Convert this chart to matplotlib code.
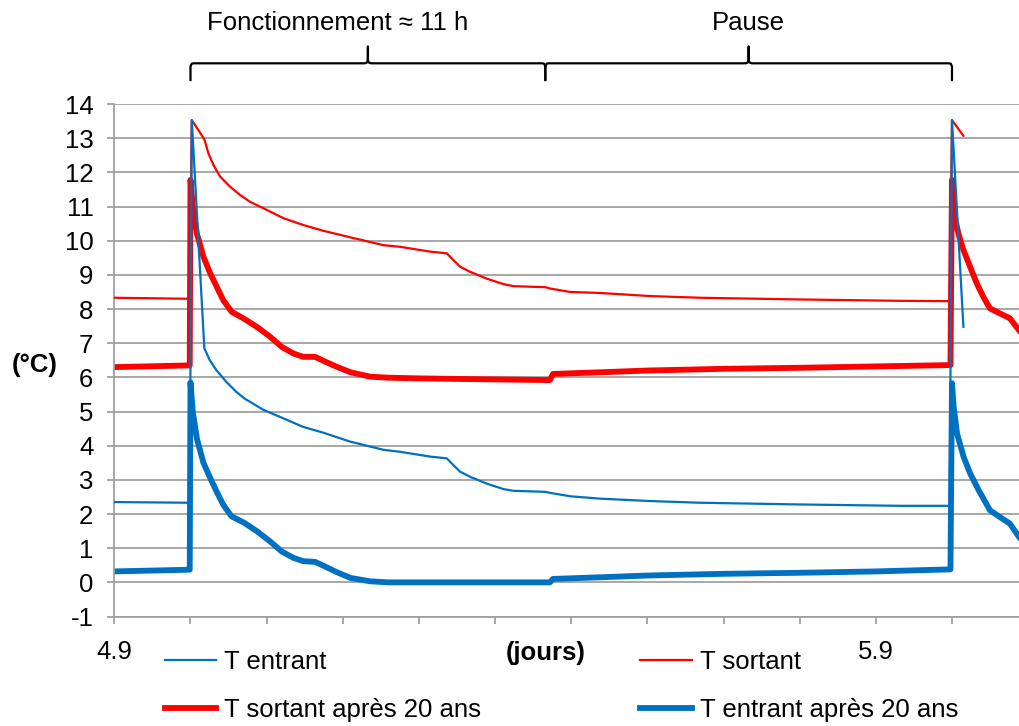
import numpy as np
import matplotlib.pyplot as plt
from matplotlib.transforms import blended_transform_factory

plt.rcParams['font.family'] = ['Liberation Sans', 'DejaVu Sans']
plt.rcParams['axes.unicode_minus'] = False

# temps en jours
t_entrant_x = [4.9, 4.999, 5.0017, 5.0182, 5.0254, 5.034, 5.047, 5.060, 5.071, 5.0957,
               5.122, 5.148, 5.1745, 5.2096, 5.2533, 5.2755, 5.315, 5.3366, 5.3431, 5.354,
               5.3672, 5.389, 5.4109, 5.424, 5.4503, 5.466, 5.4722, 5.4985, 5.5378, 5.6035,
               5.669, 5.800, 5.932, 5.997, 6.0, 6.015]
t_entrant_y = [2.35, 2.33, 13.53, 6.85, 6.5, 6.21, 5.87, 5.58, 5.38, 5.05,
               4.8, 4.55, 4.38, 4.12, 3.88, 3.82, 3.68, 3.63, 3.48, 3.24,
               3.09, 2.89, 2.73, 2.68, 2.66, 2.65, 2.62, 2.52, 2.45, 2.38,
               2.33, 2.28, 2.24, 2.24, 13.53, 7.48]

t_sortant_x = [4.9, 4.999, 5.0017, 5.0182, 5.0235, 5.030, 5.0388, 5.052, 5.0651, 5.078,
               5.0957, 5.122, 5.148, 5.1745, 5.2096, 5.2533, 5.2755, 5.315, 5.3366, 5.3431,
               5.354, 5.3672, 5.389, 5.4109, 5.424, 5.4503, 5.466, 5.4722, 5.4985, 5.5378,
               5.6035, 5.669, 5.800, 5.932, 5.997, 6.0, 6.015]
t_sortant_y = [8.33, 8.30, 13.53, 12.97, 12.56, 12.22, 11.88, 11.58, 11.34, 11.14,
               10.95, 10.66, 10.46, 10.29, 10.1, 9.87, 9.82, 9.68, 9.63, 9.48,
               9.24, 9.09, 8.89, 8.73, 8.67, 8.65, 8.64, 8.6, 8.5, 8.47,
               8.38, 8.33, 8.28, 8.24, 8.23, 13.53, 13.07]

t_sortant20_x = [4.9, 4.999, 5.0, 5.003, 5.0085, 5.017, 5.026, 5.0345, 5.043, 5.054,
                 5.070, 5.087, 5.1045, 5.120, 5.135, 5.148, 5.1636, 5.178, 5.192, 5.21,
                 5.236, 5.26, 5.3, 5.4, 5.472, 5.476, 5.54, 5.6, 5.7, 5.8,
                 5.9, 5.998, 6.0, 6.0018, 6.0085, 6.015, 6.0237, 6.0326, 6.041, 6.0498,
                 6.063, 6.076, 6.088]
t_sortant20_y = [6.30, 6.35, 11.78, 11.0, 10.2, 9.53, 9.04, 8.65, 8.26, 7.92,
                 7.72, 7.48, 7.19, 6.89, 6.7, 6.60, 6.6, 6.45, 6.31, 6.15,
                 6.02, 5.99, 5.97, 5.94, 5.92, 6.10, 6.15, 6.2, 6.25, 6.28,
                 6.32, 6.36, 11.78, 10.9, 10.2, 9.73, 9.24, 8.75, 8.36, 8.02,
                 7.87, 7.73, 7.38]

t_entrant20_x = [4.9, 4.999, 5.0, 5.003, 5.0085, 5.017, 5.026, 5.0345, 5.043, 5.054,
                 5.070, 5.087, 5.1045, 5.120, 5.135, 5.148, 5.1636, 5.178, 5.192, 5.21,
                 5.236, 5.26, 5.3, 5.4, 5.472, 5.476, 5.54, 5.6, 5.7, 5.8,
                 5.9, 5.998, 6.0, 6.0022, 6.0066, 6.0153, 6.024, 6.035, 6.0498, 6.063,
                 6.076, 6.088]
t_entrant20_y = [0.32, 0.37, 5.85, 5.0, 4.2, 3.5, 3.05, 2.65, 2.27, 1.93,
                 1.75, 1.5, 1.2, 0.9, 0.72, 0.62, 0.6, 0.45, 0.3, 0.13,
                 0.03, 0.0, 0.0, 0.0, 0.0, 0.1, 0.15, 0.2, 0.25, 0.28,
                 0.32, 0.38, 5.83, 5.14, 4.36, 3.67, 3.18, 2.70, 2.11, 1.91,
                 1.72, 1.33]

# phases (jours)
debut_fonct = 5.0
fin_fonct = 5.466
fin_pause = 6.0

blue = '#0070C0'
red = '#FF0000'
grid_c = '#A0A0A0'
fs = 18.5

fig = plt.figure(figsize=(10.19, 7.26), dpi=100)
ax = fig.add_axes([0.1122, 0.1508, 0.8878, 0.7059])

l_sort20, = ax.plot(t_sortant20_x, t_sortant20_y, color=red, linewidth=4.2, zorder=2,
                    solid_joinstyle='round', label='T sortant après 20 ans')
l_ent20, = ax.plot(t_entrant20_x, t_entrant20_y, color=blue, linewidth=4.2, zorder=2,
                   solid_joinstyle='round', label='T entrant après 20 ans')
l_sort, = ax.plot(t_sortant_x, t_sortant_y, color=red, linewidth=1.6, zorder=3, label='T sortant')
l_ent, = ax.plot(t_entrant_x, t_entrant_y, color=blue, linewidth=1.6, zorder=3, label='T entrant')

ax.set_xlim(4.9, 6.088)
ax.set_ylim(-1, 14)
ax.set_yticks(np.arange(-1, 15, 1))
xt = np.round(np.arange(4.9, 6.05, 0.1), 2)
ax.set_xticks(xt)
ax.set_xticklabels(['4.9' if abs(v - 4.9) < 1e-6 else '5.9' if abs(v - 5.9) < 1e-6 else '' for v in xt])
ax.grid(axis='y', color=grid_c, linewidth=1.3)
ax.set_axisbelow(True)
for s in ['top', 'right']:
    ax.spines[s].set_visible(False)
for s in ['left', 'bottom']:
    ax.spines[s].set_color(grid_c)
    ax.spines[s].set_linewidth(1.3)
ax.tick_params(axis='both', colors=grid_c, labelcolor='black', labelsize=fs,
               length=5, width=1.3, direction='out')
ax.tick_params(axis='y', pad=10)
ax.tick_params(axis='x', pad=12)

fig.text(0.012, 1 - 365 / 726, '(°C)', fontsize=fs, fontweight='bold', va='center', ha='left')
fig.text(546 / 1019, 1 - 653 / 726, '(jours)', fontsize=fs, fontweight='bold', va='center', ha='center')

# accolades
tr = blended_transform_factory(ax.transData, fig.transFigure)
y_line = 1 - 63.3 / 726
y_tip = 1 - 80 / 726
y_cusp = 1 - 46.7 / 726
dx = 0.004
dy = 4 / 726


def accolade(x0, x1):
    xm = (x0 + x1) / 2
    xs = [x0, x0, x0 + dx * 0.4, x0 + dx, xm - dx, xm - dx * 0.3, xm, xm, xm, xm + dx * 0.3, xm + dx,
          x1 - dx, x1 - dx * 0.4, x1, x1]
    ys = [y_tip, y_line - dy * 0.8, y_line - dy * 0.1, y_line, y_line, y_line + dy * 0.2,
          y_line + dy * 0.8, y_cusp, y_line + dy * 0.8, y_line + dy * 0.2, y_line,
          y_line, y_line - dy * 0.1, y_line - dy * 0.8, y_tip]
    ax.plot(xs, ys, color='black', linewidth=1.6, transform=tr, clip_on=False)
    return xm


accolade(debut_fonct, fin_fonct)
xm2 = accolade(fin_fonct, fin_pause)
fig.text(338 / 1019, 1 - 23 / 726, 'Fonctionnement ≈ 11 h', fontsize=fs, ha='center', va='center')
ax.text(xm2, 1 - 23 / 726, 'Pause', fontsize=fs, ha='center', va='center', transform=tr)

leg = fig.legend([l_ent, l_sort20, l_sort, l_ent20],
                 ['T entrant', 'T sortant après 20 ans', 'T sortant', 'T entrant après 20 ans'],
                 ncol=2, loc='upper left', bbox_to_anchor=(165 / 1019, 1 - 650 / 726),
                 frameon=False, fontsize=fs, handlelength=2.0, handletextpad=0.3,
                 columnspacing=6.2, labelspacing=0.95, borderpad=0, borderaxespad=0)

fig.savefig('out.png', dpi=100)
